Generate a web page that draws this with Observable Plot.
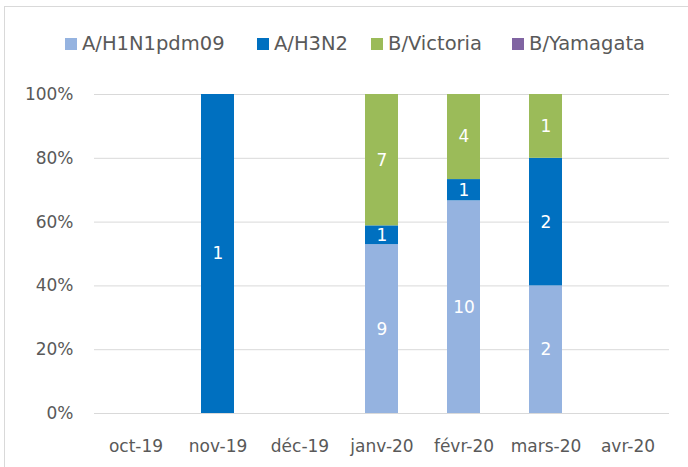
<!DOCTYPE html>
<html>
<head>
<meta charset="utf-8">
<script src="https://cdn.jsdelivr.net/npm/d3@7"></script>
<script src="https://cdn.jsdelivr.net/npm/@observablehq/plot@0.6"></script>
<style>
  body { margin: 0; background: #fff; font-family: "DejaVu Sans", sans-serif; }
  #wrap { position: relative; width: 688px; height: 467px; overflow: hidden; }
  #frame { position: absolute; left: 4px; top: 6px; width: 700px; height: 480px; border-left: 1px solid #d9d9d9; border-top: 1px solid #d9d9d9; }
  #legend { position: absolute; left: 0; top: 0; width: 688px; height: 70px; }
  .sw { position: absolute; top: 38px; width: 12px; height: 12px; }
  .lt { position: absolute; top: 32px; font-size: 19.5px; line-height: 23px; color: #595959; white-space: nowrap; }
  #chart { position: absolute; left: 0; top: 70px; }
</style>
</head>
<body>
<div id="wrap">
  <div id="frame"></div>
  <div id="legend"></div>
  <div id="chart"></div>
</div>
<script>
const months = ["oct-19", "nov-19", "déc-19", "janv-20", "févr-20", "mars-20", "avr-20"];
const types = ["A/H1N1pdm09", "A/H3N2", "B/Victoria", "B/Yamagata"];
const colors = ["#95b3e0", "#0070c0", "#9bbb59", "#8064a2"];
const h1n1 = [0, 0, 0, 9, 10, 2, 0];
const h3n2 = [0, 1, 0, 1, 1, 2, 0];
const victoria = [0, 0, 0, 7, 4, 1, 0];
const yamagata = [0, 0, 0, 0, 0, 0, 0];
const yTicks = [0, 0.2, 0.4, 0.6, 0.8, 1];

const seriesValues = [h1n1, h3n2, victoria, yamagata];
const data = [];
types.forEach((t, i) => months.forEach((m, j) => data.push({month: m, type: t, count: seriesValues[i][j]})));

// legend
const swatchX = [65, 257, 371, 512];
const legend = document.getElementById("legend");
types.forEach((t, i) => {
  const sw = document.createElement("div");
  sw.className = "sw";
  sw.style.left = swatchX[i] + "px";
  sw.style.background = colors[i];
  legend.appendChild(sw);
  const lt = document.createElement("div");
  lt.className = "lt";
  lt.style.left = (swatchX[i] + 17) + "px";
  lt.textContent = t;
  legend.appendChild(lt);
});

const chart = Plot.plot({
  width: 688,
  height: 397,
  marginTop: 24,
  marginBottom: 54,
  marginLeft: 94,
  marginRight: 19,
  style: {fontFamily: "'DejaVu Sans', sans-serif", fontSize: "17px", color: "#595959", background: "transparent"},
  x: {domain: months, paddingInner: 0.6, paddingOuter: 0.3, label: null, tickSize: 0, tickPadding: 26},
  y: {domain: [0, 1], ticks: yTicks, tickFormat: d3.format(".0%"), label: null, tickSize: 0, tickPadding: 21},
  color: {domain: types, range: colors},
  marks: [
    Plot.gridY(yTicks, {stroke: "#d9d9d9", strokeOpacity: 1, strokeWidth: 1}),
    Plot.barY(data, Plot.stackY({x: "month", y: "count", z: "type", fill: "type", offset: "normalize", order: null})),
    Plot.text(data.filter(d => d.count > 0), Plot.stackY({x: "month", y: "count", z: "type", offset: "normalize", text: "count", fill: "white", fontSize: 17}))
  ]
});
document.getElementById("chart").appendChild(chart);
</script>
</body>
</html>
